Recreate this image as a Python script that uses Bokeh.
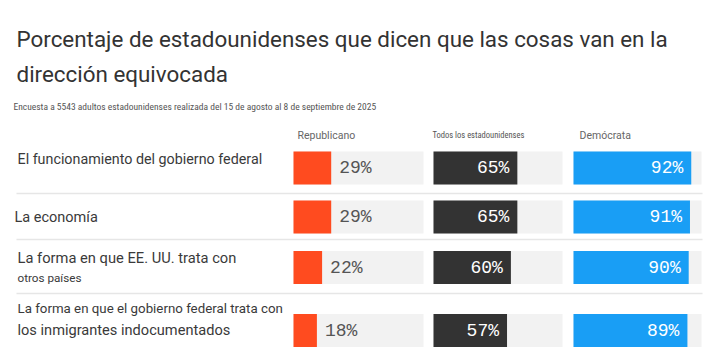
from bokeh.plotting import figure
from bokeh.models import Range1d
from bokeh.embed import file_html
from bokeh.resources import INLINE
from bokeh.core.properties import value

# ---------------- data ----------------
title_lines = ["Porcentaje de estadounidenses que dicen que las cosas van en la",
               "dirección equivocada"]
subtitle = "Encuesta a 5543 adultos estadounidenses realizada del 15 de agosto al 8 de septiembre de 2025"
groups = ["Republicano", "Todos los estadounidenses", "Demócrata"]
cat_line1 = ["El funcionamiento del gobierno federal",
             "La economía",
             "La forma en que EE. UU. trata con",
             "La forma en que el gobierno federal trata con"]
cat_line2 = ["", "", "otros países", "los inmigrantes indocumentados"]
republicano = [29, 29, 22, 18]
todos = [65, 65, 60, 57]
democrata = [92, 91, 90, 89]

# ---------------- layout ----------------
W, H = 712, 352
M = 0
p = figure(width=W, height=H, x_range=Range1d(M, M + W), y_range=Range1d(M + H, M),
           output_backend="svg", toolbar_location=None, min_border=0,
           x_axis_type=None, y_axis_type=None)
p.grid.visible = False
p.outline_line_color = None
p.background_fill_color = "white"
p.border_fill_color = "white"

row_y = [167.5, 216.5, 267, 330]
bar_h = 33
panels = [(293, 423), (433, 562), (573, 701)]
colors = ["#FF4B1F", "#333333", "#199EF5"]
series = [republicano, todos, democrata]
text_font = value("Roboto")
narrow = value("'Roboto Condensed', 'DejaVu Sans Condensed', 'Liberation Sans Narrow', 'Noto Sans', sans-serif")
mono = value("'Liberation Mono', 'DejaVu Sans Mono', monospace")

# title + subtitle
p.text(x=[16, 16], y=[38, 73], text=title_lines, text_font=text_font,
       text_font_size="22.4px", text_color="#333333", text_baseline="middle")
p.text(x=[13], y=[106], text=[subtitle], text_font=narrow,
       text_font_size="9.5px", text_color="#555555", text_baseline="middle")

# separators
sep_y = [193, 239, 293]
p.segment(x0=[16] * 3, x1=[702] * 3, y0=sep_y, y1=sep_y, line_color="#E6E6E6", line_width=1.5)

# headers
hdr_x = [297, 432, 579]
p.text(x=[hdr_x[0], hdr_x[2]], y=[135, 135], text=[groups[0], groups[2]], text_font=text_font,
       text_font_size="10.5px", text_color="#666666", text_baseline="middle")
p.text(x=[hdr_x[1]], y=[134], text=[groups[1]], text_font=narrow,
       text_font_size="8.5px", text_color="#555555", text_baseline="middle")

# category labels
lab1_y = [158, 217, 257, 308]
lab1_size = ["14.3px", "14.5px", "14.7px", "13.3px"]
for i in range(4):
    p.text(x=[17 if i != 1 else 14], y=[lab1_y[i]], text=[cat_line1[i]], text_font=text_font,
           text_font_size=lab1_size[i], text_color="#3a3a3a", text_baseline="middle")
p.text(x=[17], y=[277], text=[cat_line2[2]], text_font=text_font,
       text_font_size="11.7px", text_color="#3a3a3a", text_baseline="middle")
p.text(x=[17], y=[329], text=[cat_line2[3]], text_font=text_font,
       text_font_size="14.6px", text_color="#3a3a3a", text_baseline="middle")

# panels with their own scales
for i, ((a, b), col, vals) in enumerate(zip(panels, colors, series)):
    k = (b - a) / 100.0
    s = -(a - M) / k
    name = "panel%d" % i
    p.extra_x_ranges[name] = Range1d(s, s + W / k)
    p.hbar(y=row_y, left=0, right=[100] * 4, height=bar_h, fill_color="#F2F2F2",
           line_color=None, x_range_name=name)
    p.hbar(y=row_y, left=0, right=vals, height=bar_h, fill_color=col,
           line_color=None, x_range_name=name)
    labels = ["%d%%" % v for v in vals]
    if i == 0:
        p.text(x=vals, y=row_y, text=labels, x_range_name=name, x_offset=8,
               text_font=mono, text_font_size="18px", text_color="#555555",
               text_baseline="middle", text_align="left")
    else:
        p.text(x=vals, y=row_y, text=labels, x_range_name=name, x_offset=-8,
               text_font=mono, text_font_size="18px", text_color="white",
               text_baseline="middle", text_align="right")

open("out.html", "w").write(file_html(p, INLINE))
